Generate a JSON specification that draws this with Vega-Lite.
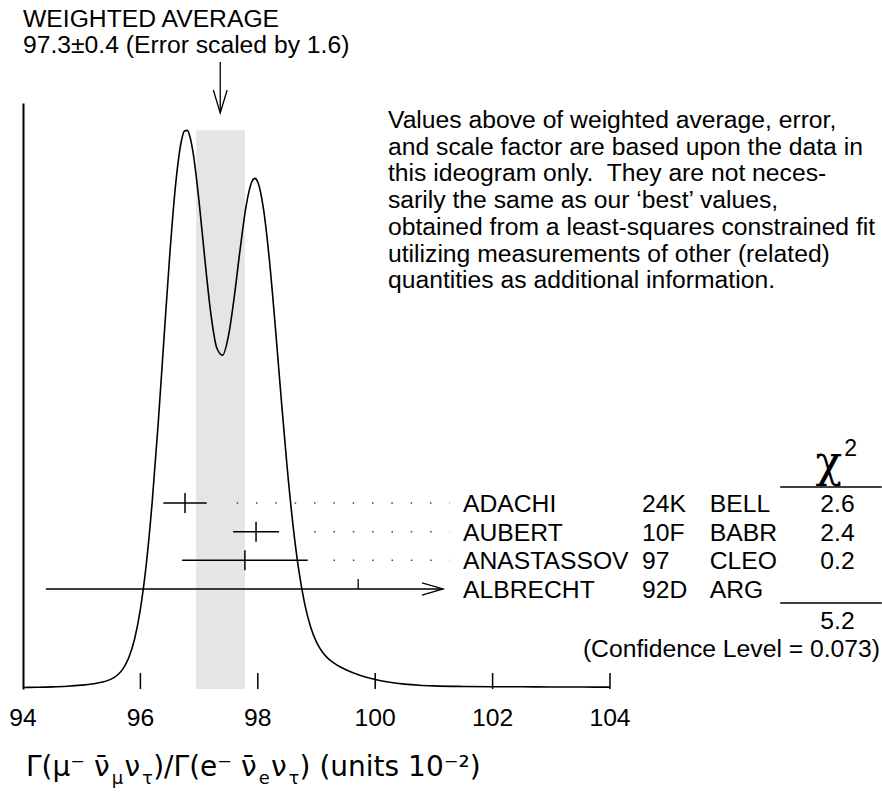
{
  "$schema": "https://vega.github.io/schema/vega-lite/v6.json",
  "width": 587,
  "height": 586,
  "autosize": "none",
  "padding": {"left": 23, "top": 103, "right": 272, "bottom": 106},
  "background": "white",
  "config": {
    "view": {"stroke": null},
    "text": {"font": "Liberation Sans", "fontSize": 24.7, "color": "#000", "align": "left", "baseline": "alphabetic"},
    "rule": {"color": "#000", "strokeWidth": 1.5}
  },
  "data": {"values": [{}]},
  "datasets": {
    "curve": [
      {"x": 94, "f": 0.022}, {"x": 94.25, "f": 0.025}, {"x": 94.5, "f": 0.030}, {"x": 94.75, "f": 0.039},
      {"x": 95, "f": 0.055}, {"x": 95.25, "f": 0.081}, {"x": 95.5, "f": 0.140}, {"x": 95.6, "f": 0.192},
      {"x": 95.7, "f": 0.282}, {"x": 95.8, "f": 0.440}, {"x": 95.9, "f": 0.707}, {"x": 96.0, "f": 1.136},
      {"x": 96.1, "f": 1.775}, {"x": 96.2, "f": 2.651}, {"x": 96.3, "f": 3.742}, {"x": 96.4, "f": 4.966},
      {"x": 96.5, "f": 6.174}, {"x": 96.6, "f": 7.177}, {"x": 96.7, "f": 7.803}, {"x": 96.75, "f": 7.938},
      {"x": 96.8, "f": 7.947}, {"x": 96.85, "f": 7.836}, {"x": 96.9, "f": 7.616}, {"x": 97.0, "f": 6.930},
      {"x": 97.1, "f": 6.096}, {"x": 97.2, "f": 5.339}, {"x": 97.3, "f": 4.855}, {"x": 97.4, "f": 4.749},
      {"x": 97.5, "f": 5.024}, {"x": 97.6, "f": 5.585}, {"x": 97.7, "f": 6.262}, {"x": 97.8, "f": 6.866},
      {"x": 97.9, "f": 7.219}, {"x": 97.95, "f": 7.264}, {"x": 98.0, "f": 7.211}, {"x": 98.1, "f": 6.812},
      {"x": 98.2, "f": 6.081}, {"x": 98.3, "f": 5.137}, {"x": 98.4, "f": 4.119}, {"x": 98.5, "f": 3.155},
      {"x": 98.6, "f": 2.328}, {"x": 98.7, "f": 1.680}, {"x": 98.8, "f": 1.207}, {"x": 98.9, "f": 0.882},
      {"x": 99.0, "f": 0.667}, {"x": 99.1, "f": 0.527}, {"x": 99.2, "f": 0.433}, {"x": 99.3, "f": 0.367},
      {"x": 99.4, "f": 0.316}, {"x": 99.5, "f": 0.274}, {"x": 99.75, "f": 0.193}, {"x": 100, "f": 0.135},
      {"x": 100.25, "f": 0.095}, {"x": 100.5, "f": 0.069}, {"x": 100.75, "f": 0.053}, {"x": 101, "f": 0.044},
      {"x": 101.5, "f": 0.036}, {"x": 102, "f": 0.033}, {"x": 102.5, "f": 0.031}, {"x": 103, "f": 0.029},
      {"x": 103.5, "f": 0.028}, {"x": 104, "f": 0.026}
    ],
    "meas": [
      {"name": "ADACHI", "ref": "24K", "exp": "BELL", "chi": "2.6", "val": 96.76, "lo": 96.39, "hi": 97.13, "dots": 97.64, "row": 1},
      {"name": "AUBERT", "ref": "10F", "exp": "BABR", "chi": "2.4", "val": 97.97, "lo": 97.58, "hi": 98.36, "dots": 98.96, "row": 2},
      {"name": "ANASTASSOV", "ref": "97", "exp": "CLEO", "chi": "0.2", "val": 97.78, "lo": 96.71, "hi": 98.85, "dots": 99.29, "row": 3},
      {"name": "ALBRECHT", "ref": "92D", "exp": "ARG", "chi": "", "val": 99.71, "lo": 94.39, "hi": 101.155, "row": 4}
    ],
    "ticks": [{"v": 94, "t": "94"}, {"v": 96, "t": "96"}, {"v": 98, "t": "98"}, {"v": 100, "t": "100"}, {"v": 102, "t": "102"}, {"v": 104, "t": "104"}]
  },
  "resolve": {"scale": {"y": "independent"}},
  "layer": [
    {
      "data": {"values": [{"lo": 96.95, "hi": 97.78}]},
      "mark": {"type": "rect", "color": "#e5e5e5"},
      "encoding": {
        "x": {"field": "lo", "type": "quantitative", "scale": {"domain": [94, 104], "nice": false, "zero": false}, "axis": null},
        "x2": {"field": "hi"},
        "y": {"datum": 0, "type": "quantitative", "scale": {"domain": [0, 8.336], "nice": false, "zero": false}, "axis": null},
        "y2": {"datum": 7.95}
      }
    },
    {
      "data": {"name": "curve"},
      "mark": {"type": "line", "color": "#000", "strokeWidth": 1.6, "interpolate": "monotone"},
      "encoding": {
        "x": {"field": "x", "type": "quantitative", "scale": {"domain": [94, 104], "nice": false, "zero": false},
          "axis": {"ticks": false, "labels": false, "domainColor": "#000", "domainWidth": 2, "grid": false, "title": null}},
        "y": {"field": "f", "type": "quantitative", "scale": {"domain": [0, 8.336], "nice": false, "zero": false},
          "axis": {"domain": true, "domainColor": "#000", "domainWidth": 2, "ticks": false, "labels": false, "grid": false, "title": null}}
      }
    },
    {
      "data": {"name": "ticks"},
      "transform": [{"filter": "datum.v > 94"}],
      "mark": {"type": "rule", "strokeWidth": 1.5},
      "encoding": {
        "x": {"field": "v", "type": "quantitative", "scale": {"domain": [94, 104], "nice": false, "zero": false}, "axis": null},
        "y": {"datum": 0, "type": "quantitative", "scale": {"domain": [0, 8.336], "nice": false, "zero": false}, "axis": null},
        "y2": {"datum": 0.2276}
      }
    },
    {
      "data": {"name": "ticks"},
      "mark": {"type": "text", "align": "center"},
      "encoding": {
        "x": {"field": "v", "type": "quantitative", "scale": {"domain": [94, 104], "nice": false, "zero": false}, "axis": null},
        "y": {"datum": -0.526, "type": "quantitative", "scale": {"domain": [0, 8.336], "nice": false, "zero": false}, "axis": null},
        "text": {"field": "t"}
      }
    },
    {
      "mark": {"type": "rule", "strokeWidth": 1.3},
      "encoding": {
        "x": {"datum": 97.36, "type": "quantitative", "scale": {"domain": [94, 104], "nice": false, "zero": false}, "axis": null},
        "y": {"datum": 8.919, "type": "quantitative", "scale": {"domain": [0, 8.336], "nice": false, "zero": false}, "axis": null},
        "y2": {"datum": 8.193}
      }
    },
    {
      "mark": {"type": "point", "shape": "M -0.3 -1 L 0 0 L 0.3 -1", "size": 2116, "filled": false, "stroke": "#000", "strokeWidth": 1.3, "opacity": 1},
      "encoding": {
        "x": {"datum": 97.36, "type": "quantitative", "scale": {"domain": [94, 104], "nice": false, "zero": false}, "axis": null},
        "y": {"datum": 8.193, "type": "quantitative", "scale": {"domain": [0, 8.336], "nice": false, "zero": false}, "axis": null}
      }
    },
    {
      "mark": {"type": "text", "text": "WEIGHTED AVERAGE"},
      "encoding": {
        "x": {"datum": 94.0, "type": "quantitative", "scale": {"domain": [94, 104], "nice": false, "zero": false}, "axis": null},
        "y": {"datum": 9.417, "type": "quantitative", "scale": {"domain": [0, 8.336], "nice": false, "zero": false}, "axis": null}
      }
    },
    {
      "mark": {"type": "text", "text": "97.3±0.4 (Error scaled by 1.6)"},
      "encoding": {
        "x": {"datum": 94.0, "type": "quantitative", "scale": {"domain": [94, 104], "nice": false, "zero": false}, "axis": null},
        "y": {"datum": 9.047, "type": "quantitative", "scale": {"domain": [0, 8.336], "nice": false, "zero": false}, "axis": null}
      }
    },
    {
      "mark": {"type": "text", "lineHeight": 26.7, "text": ["Values above of weighted average, error,", "and scale factor are based upon the data in", "this ideogram only.\u00a0 They are not neces-", "sarily the same as our ‘best’ values,", "obtained from a least-squares constrained fit", "utilizing measurements of other (related)", "quantities as additional information."]},
      "encoding": {
        "x": {"datum": 100.218, "type": "quantitative", "scale": {"domain": [94, 104], "nice": false, "zero": false}, "axis": null},
        "y": {"datum": 7.98, "type": "quantitative", "scale": {"domain": [0, 8.336], "nice": false, "zero": false}, "axis": null}
      }
    },
    {
      "data": {"name": "meas"},
      "mark": {"type": "rule", "strokeWidth": 1.5},
      "encoding": {
        "x": {"field": "lo", "type": "quantitative", "scale": {"domain": [94, 104], "nice": false, "zero": false}, "axis": null},
        "x2": {"field": "hi"},
        "y": {"field": "row", "type": "quantitative", "scale": {"domain": [-12.95, 7.488], "reverse": true, "nice": false, "zero": false}, "axis": null}
      }
    },
    {
      "data": {"name": "meas"},
      "transform": [{"filter": "datum.row < 4"}],
      "mark": {"type": "rule", "strokeWidth": 1.5, "yOffset": -10, "y2Offset": 10},
      "encoding": {
        "x": {"field": "val", "type": "quantitative", "scale": {"domain": [94, 104], "nice": false, "zero": false}, "axis": null},
        "y": {"field": "row", "type": "quantitative", "scale": {"domain": [-12.95, 7.488], "reverse": true, "nice": false, "zero": false}, "axis": null},
        "y2": {"field": "row"}
      }
    },
    {
      "data": {"name": "meas"},
      "transform": [{"filter": "datum.row == 4"}],
      "mark": {"type": "rule", "strokeWidth": 1.3, "yOffset": -10, "y2Offset": 0},
      "encoding": {
        "x": {"field": "val", "type": "quantitative", "scale": {"domain": [94, 104], "nice": false, "zero": false}, "axis": null},
        "y": {"field": "row", "type": "quantitative", "scale": {"domain": [-12.95, 7.488], "reverse": true, "nice": false, "zero": false}, "axis": null},
        "y2": {"field": "row"}
      }
    },
    {
      "data": {"name": "meas"},
      "transform": [{"filter": "datum.row < 4"}],
      "mark": {"type": "rule", "strokeWidth": 1.5, "color": "#444", "strokeDash": [1.5, 17.83]},
      "encoding": {
        "x": {"field": "dots", "type": "quantitative", "scale": {"domain": [94, 104], "nice": false, "zero": false}, "axis": null},
        "x2": {"datum": 101.27},
        "y": {"field": "row", "type": "quantitative", "scale": {"domain": [-12.95, 7.488], "reverse": true, "nice": false, "zero": false}, "axis": null}
      }
    },
    {
      "data": {"name": "meas"},
      "transform": [{"filter": "datum.row == 4"}],
      "mark": {"type": "point", "shape": "M -1 -0.29 L 0 0 L -1 0.29", "size": 1764, "filled": false, "stroke": "#000", "strokeWidth": 1.3, "opacity": 1},
      "encoding": {
        "x": {"field": "hi", "type": "quantitative", "scale": {"domain": [94, 104], "nice": false, "zero": false}, "axis": null},
        "y": {"field": "row", "type": "quantitative", "scale": {"domain": [-12.95, 7.488], "reverse": true, "nice": false, "zero": false}, "axis": null}
      }
    },
    {
      "data": {"name": "meas"},
      "mark": {"type": "text", "dy": 9},
      "encoding": {
        "x": {"datum": 101.496, "type": "quantitative", "scale": {"domain": [94, 104], "nice": false, "zero": false}, "axis": null},
        "y": {"field": "row", "type": "quantitative", "scale": {"domain": [-12.95, 7.488], "reverse": true, "nice": false, "zero": false}, "axis": null},
        "text": {"field": "name"}
      }
    },
    {
      "data": {"name": "meas"},
      "mark": {"type": "text", "dy": 9},
      "encoding": {
        "x": {"datum": 104.545, "type": "quantitative", "scale": {"domain": [94, 104], "nice": false, "zero": false}, "axis": null},
        "y": {"field": "row", "type": "quantitative", "scale": {"domain": [-12.95, 7.488], "reverse": true, "nice": false, "zero": false}, "axis": null},
        "text": {"field": "ref"}
      }
    },
    {
      "data": {"name": "meas"},
      "mark": {"type": "text", "dy": 9},
      "encoding": {
        "x": {"datum": 105.70, "type": "quantitative", "scale": {"domain": [94, 104], "nice": false, "zero": false}, "axis": null},
        "y": {"field": "row", "type": "quantitative", "scale": {"domain": [-12.95, 7.488], "reverse": true, "nice": false, "zero": false}, "axis": null},
        "text": {"field": "exp"}
      }
    },
    {
      "data": {"name": "meas"},
      "mark": {"type": "text", "dy": 9, "align": "center"},
      "encoding": {
        "x": {"datum": 107.875, "type": "quantitative", "scale": {"domain": [94, 104], "nice": false, "zero": false}, "axis": null},
        "y": {"field": "row", "type": "quantitative", "scale": {"domain": [-12.95, 7.488], "reverse": true, "nice": false, "zero": false}, "axis": null},
        "text": {"field": "chi"}
      }
    },
    {
      "mark": {"type": "text", "text": "χ", "font": "DejaVu Serif", "fontSize": 44, "align": "center"},
      "encoding": {
        "x": {"datum": 107.73, "type": "quantitative", "scale": {"domain": [94, 104], "nice": false, "zero": false}, "axis": null},
        "y": {"datum": 0.093, "type": "quantitative", "scale": {"domain": [-12.95, 7.488], "reverse": true, "nice": false, "zero": false}, "axis": null}
      }
    },
    {
      "mark": {"type": "text", "text": "2", "fontSize": 23, "align": "center"},
      "encoding": {
        "x": {"datum": 108.1, "type": "quantitative", "scale": {"domain": [94, 104], "nice": false, "zero": false}, "axis": null},
        "y": {"datum": -0.65, "type": "quantitative", "scale": {"domain": [-12.95, 7.488], "reverse": true, "nice": false, "zero": false}, "axis": null}
      }
    },
    {
      "mark": {"type": "rule", "strokeWidth": 1.3},
      "encoding": {
        "x": {"datum": 106.90, "type": "quantitative", "scale": {"domain": [94, 104], "nice": false, "zero": false}, "axis": null},
        "x2": {"datum": 108.63},
        "y": {"datum": 0.442, "type": "quantitative", "scale": {"domain": [-12.95, 7.488], "reverse": true, "nice": false, "zero": false}, "axis": null}
      }
    },
    {
      "mark": {"type": "rule", "strokeWidth": 1.3},
      "encoding": {
        "x": {"datum": 106.90, "type": "quantitative", "scale": {"domain": [94, 104], "nice": false, "zero": false}, "axis": null},
        "x2": {"datum": 108.63},
        "y": {"datum": 4.488, "type": "quantitative", "scale": {"domain": [-12.95, 7.488], "reverse": true, "nice": false, "zero": false}, "axis": null}
      }
    },
    {
      "mark": {"type": "text", "text": "5.2", "align": "center", "dy": 9},
      "encoding": {
        "x": {"datum": 107.875, "type": "quantitative", "scale": {"domain": [94, 104], "nice": false, "zero": false}, "axis": null},
        "y": {"datum": 5.08, "type": "quantitative", "scale": {"domain": [-12.95, 7.488], "reverse": true, "nice": false, "zero": false}, "axis": null}
      }
    },
    {
      "mark": {"type": "text", "text": "(Confidence Level = 0.073)", "align": "right", "dy": 9},
      "encoding": {
        "x": {"datum": 108.6, "type": "quantitative", "scale": {"domain": [94, 104], "nice": false, "zero": false}, "axis": null},
        "y": {"datum": 6.075, "type": "quantitative", "scale": {"domain": [-12.95, 7.488], "reverse": true, "nice": false, "zero": false}, "axis": null}
      }
    },
    {
      "mark": {"type": "text", "text": "Γ(μ⁻ ν̄", "font": "DejaVu Sans", "fontSize": 28},
      "encoding": {
        "x": {"datum": 94.051, "type": "quantitative", "scale": {"domain": [94, 104], "nice": false, "zero": false}, "axis": null},
        "y": {"datum": -1.2376, "type": "quantitative", "scale": {"domain": [0, 8.336], "nice": false, "zero": false}, "axis": null}
      }
    },
    {
      "mark": {"type": "text", "text": "μ", "font": "DejaVu Sans", "fontSize": 18, "dy": 8},
      "encoding": {
        "x": {"datum": 95.512, "type": "quantitative", "scale": {"domain": [94, 104], "nice": false, "zero": false}, "axis": null},
        "y": {"datum": -1.2376, "type": "quantitative", "scale": {"domain": [0, 8.336], "nice": false, "zero": false}, "axis": null}
      }
    },
    {
      "mark": {"type": "text", "text": "ν", "font": "DejaVu Sans", "fontSize": 28},
      "encoding": {
        "x": {"datum": 95.730, "type": "quantitative", "scale": {"domain": [94, 104], "nice": false, "zero": false}, "axis": null},
        "y": {"datum": -1.2376, "type": "quantitative", "scale": {"domain": [0, 8.336], "nice": false, "zero": false}, "axis": null}
      }
    },
    {
      "mark": {"type": "text", "text": "τ", "font": "DejaVu Sans", "fontSize": 18, "dy": 8},
      "encoding": {
        "x": {"datum": 96.029, "type": "quantitative", "scale": {"domain": [94, 104], "nice": false, "zero": false}, "axis": null},
        "y": {"datum": -1.2376, "type": "quantitative", "scale": {"domain": [0, 8.336], "nice": false, "zero": false}, "axis": null}
      }
    },
    {
      "mark": {"type": "text", "text": ")/Γ(e⁻ ν̄", "font": "DejaVu Sans", "fontSize": 28},
      "encoding": {
        "x": {"datum": 96.218, "type": "quantitative", "scale": {"domain": [94, 104], "nice": false, "zero": false}, "axis": null},
        "y": {"datum": -1.2376, "type": "quantitative", "scale": {"domain": [0, 8.336], "nice": false, "zero": false}, "axis": null}
      }
    },
    {
      "mark": {"type": "text", "text": "e", "font": "DejaVu Sans", "fontSize": 18, "dy": 8},
      "encoding": {
        "x": {"datum": 98.016, "type": "quantitative", "scale": {"domain": [94, 104], "nice": false, "zero": false}, "axis": null},
        "y": {"datum": -1.2376, "type": "quantitative", "scale": {"domain": [0, 8.336], "nice": false, "zero": false}, "axis": null}
      }
    },
    {
      "mark": {"type": "text", "text": "ν", "font": "DejaVu Sans", "fontSize": 28},
      "encoding": {
        "x": {"datum": 98.225, "type": "quantitative", "scale": {"domain": [94, 104], "nice": false, "zero": false}, "axis": null},
        "y": {"datum": -1.2376, "type": "quantitative", "scale": {"domain": [0, 8.336], "nice": false, "zero": false}, "axis": null}
      }
    },
    {
      "mark": {"type": "text", "text": "τ", "font": "DejaVu Sans", "fontSize": 18, "dy": 8},
      "encoding": {
        "x": {"datum": 98.523, "type": "quantitative", "scale": {"domain": [94, 104], "nice": false, "zero": false}, "axis": null},
        "y": {"datum": -1.2376, "type": "quantitative", "scale": {"domain": [0, 8.336], "nice": false, "zero": false}, "axis": null}
      }
    },
    {
      "mark": {"type": "text", "text": ") (units 10⁻²)", "font": "DejaVu Sans", "fontSize": 28},
      "encoding": {
        "x": {"datum": 98.712, "type": "quantitative", "scale": {"domain": [94, 104], "nice": false, "zero": false}, "axis": null},
        "y": {"datum": -1.2376, "type": "quantitative", "scale": {"domain": [0, 8.336], "nice": false, "zero": false}, "axis": null}
      }
    }
  ]
}
